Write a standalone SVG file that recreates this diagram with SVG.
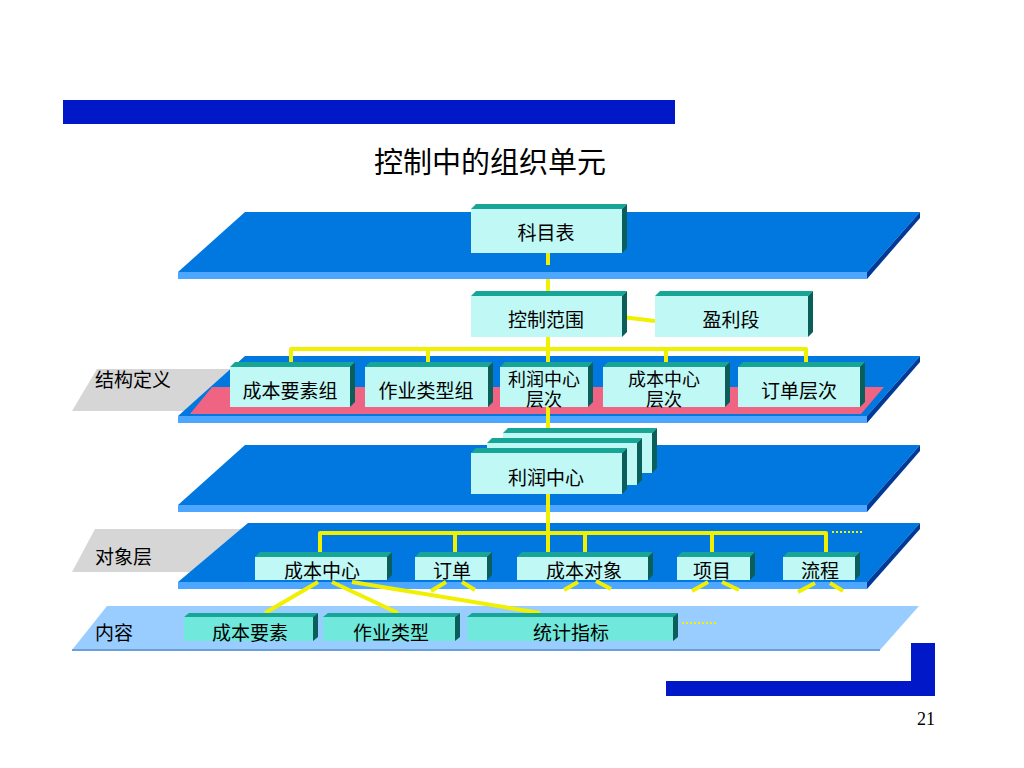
<svg xmlns="http://www.w3.org/2000/svg" width="1024" height="768" viewBox="0 0 1024 768">
<style>
text{font-family:"Liberation Sans","Noto Sans CJK SC",sans-serif;fill:#000}
.t{font-size:19px;text-anchor:middle}
.t2{font-size:18px;text-anchor:middle}
.lbl{font-size:19px}
.pt{fill:#0078e0}
.ps{fill:#4da6ff}
.pd{fill:#003a99}
.bt{fill:#17a596}
.bs{fill:#0b5f5a}
.bf{fill:#c0f8f5}
.bf2{fill:#70e8dc}
.c{stroke:#f0f000;stroke-width:4;fill:none;stroke-linejoin:round}
.d{stroke:#f0f000;stroke-width:2;fill:none;stroke-dasharray:2 2}
</style>
<rect width="1024" height="768" fill="#fff"/>
<rect x="63" y="100" width="612" height="24" fill="#0018c8"/>
<text x="490" y="173" style="font-size:29px;text-anchor:middle">控制中的组织单元</text>

<!-- label bands -->
<polygon points="97,369 260,369 230,411 72,411" fill="#d6d6d6"/>
<polygon points="95,529 260,529 230,572 72,572" fill="#d6d6d6"/>
<text class="lbl" x="95" y="387">结构定义</text>
<text class="lbl" x="95" y="564">对象层</text>

<!-- planes -->
<g id="plane1">
<polygon class="pt" points="245,212 920,212 867,272 178,272"/>
<polygon class="ps" points="178,272 867,272 867,279 178,279"/>
<polygon class="pd" points="920,212 920,218 867,279 867,272"/>
</g>
<g id="plane2">
<polygon class="pt" points="245,356 920,356 867,416 178,416"/>
<polygon points="212,387 884,387 861,414 190,414" fill="#ef6482"/>
<polygon class="ps" points="178,416 867,416 867,423 178,423"/>
<polygon class="pd" points="920,356 920,362 867,423 867,416"/>
</g>
<g id="plane3">
<polygon class="pt" points="245,445 920,445 867,505 178,505"/>
<polygon class="ps" points="178,505 867,505 867,512 178,512"/>
<polygon class="pd" points="920,445 920,451 867,512 867,505"/>
</g>
<g id="plane4">
<polygon class="pt" points="248,523 920,523 867,582 178,582"/>
<polygon class="ps" points="178,582 867,582 867,589 178,589"/>
<polygon class="pd" points="920,523 920,529 867,589 867,582"/>
</g>
<g id="plane5">
<polygon points="107,606 919,606 880,650 72,650" fill="#99ccff"/>
<line x1="72" y1="650" x2="880" y2="650" stroke="#6b9fd6" stroke-width="2"/>
</g>
<text class="lbl" x="95" y="640">内容</text>

<!-- connectors -->
<g id="connectors">
<path class="c" d="M548 253V265M548 279V291"/>
<path class="c" d="M622 317L655 321"/>
<path class="c" d="M548 337V362M291 362V349H806V362M428 349V362M666 349V362"/>
<path class="c" d="M548 407V428"/>
<path class="c" d="M548 494V552M320 552V533H826V552M455 533V552M585 533V552M712 533V552"/>
<path class="d" d="M832 532H863"/>
<path class="c" d="M446 582L431 591M462 582L475 590M578 582L564 590M596 581L611 589M708 582L692 591M722 582L739 590M815 583L798 592M830 583L843 591"/>
<path class="c" d="M318 582L265 613M332 582L398 613M352 582L540 613"/>
<path class="d" d="M682 623H718"/>
</g>

<!-- nodes -->
<g id="n-kemubiao">
<polygon class="bt" points="471,209 476,204 627,204 622,209"/><polygon class="bs" points="622,209 627,204 627,248 622,253"/><rect class="bf" x="471" y="209" width="151" height="44"/>
<text class="t" x="546" y="240">科目表</text></g>
<g id="n-kongzhifanwei">
<polygon class="bt" points="471,296 476,291 627,291 622,296"/><polygon class="bs" points="622,296 627,291 627,332 622,337"/><rect class="bf" x="471" y="296" width="151" height="41"/>
<text class="t" x="546" y="327">控制范围</text></g>
<g id="n-yinliduan">
<polygon class="bt" points="655,296 660,291 813,291 808,296"/><polygon class="bs" points="808,296 813,291 813,332 808,337"/><rect class="bf" x="655" y="296" width="153" height="41"/>
<text class="t" x="731" y="327">盈利段</text></g>

<g id="n-chengbenyaosuzu">
<polygon class="bt" points="230,367 235,362 355,362 350,367"/><polygon class="bs" points="350,367 355,362 355,402 350,407"/><rect class="bf" x="230" y="367" width="120" height="40"/>
<text class="t" x="290" y="398">成本要素组</text></g>
<g id="n-zuoyeleixingzu">
<polygon class="bt" points="365,367 370,362 493,362 488,367"/><polygon class="bs" points="488,367 493,362 493,402 488,407"/><rect class="bf" x="365" y="367" width="123" height="40"/>
<text class="t" x="426" y="398">作业类型组</text></g>
<g id="n-lirunzhongxincengci">
<polygon class="bt" points="500,367 505,362 593,362 588,367"/><polygon class="bs" points="588,367 593,362 593,402 588,407"/><rect class="bf" x="500" y="367" width="88" height="40"/>
<text class="t2" x="544" y="386">利润中心</text><text class="t2" x="544" y="406">层次</text></g>
<g id="n-chengbenzhongxincengci">
<polygon class="bt" points="603,367 608,362 730,362 725,367"/><polygon class="bs" points="725,367 730,362 730,402 725,407"/><rect class="bf" x="603" y="367" width="122" height="40"/>
<text class="t2" x="664" y="386">成本中心</text><text class="t2" x="664" y="406">层次</text></g>
<g id="n-dingdancengci">
<polygon class="bt" points="738,367 743,362 865,362 860,367"/><polygon class="bs" points="860,367 865,362 865,402 860,407"/><rect class="bf" x="738" y="367" width="122" height="40"/>
<text class="t" x="799" y="398">订单层次</text></g>

<g id="n-lirunzhongxin">
<polygon class="bt" points="503,433 508,428 657,428 652,433"/><polygon class="bs" points="652,433 657,428 657,468 652,473"/><rect class="bf" x="503" y="433" width="149" height="40"/>
<polygon class="bt" points="487,443 492,438 642,438 637,443"/><polygon class="bs" points="637,443 642,438 642,480 637,485"/><rect class="bf" x="487" y="443" width="150" height="42"/>
<polygon class="bt" points="471,453 476,448 627,448 622,453"/><polygon class="bs" points="622,453 627,448 627,489 622,494"/><rect class="bf" x="471" y="453" width="151" height="41"/>
<text class="t" x="546" y="485">利润中心</text></g>

<g id="n-chengbenzhongxin">
<polygon class="bt" points="255,557 260,552 392,552 387,557"/><polygon class="bs" points="387,557 392,552 392,575 387,580"/><rect class="bf" x="255" y="557" width="132" height="23"/>
<text class="t" x="322" y="578">成本中心</text></g>
<g id="n-dingdan">
<polygon class="bt" points="415,557 420,552 492,552 487,557"/><polygon class="bs" points="487,557 492,552 492,575 487,580"/><rect class="bf" x="415" y="557" width="72" height="23"/>
<text class="t" x="452" y="578">订单</text></g>
<g id="n-chengbenduixiang">
<polygon class="bt" points="517,557 522,552 653,552 648,557"/><polygon class="bs" points="648,557 653,552 653,575 648,580"/><rect class="bf" x="517" y="557" width="131" height="23"/>
<text class="t" x="584" y="578">成本对象</text></g>
<g id="n-xiangmu">
<polygon class="bt" points="677,557 682,552 755,552 750,557"/><polygon class="bs" points="750,557 755,552 755,575 750,580"/><rect class="bf" x="677" y="557" width="73" height="23"/>
<text class="t" x="712" y="578">项目</text></g>
<g id="n-liucheng">
<polygon class="bt" points="783,557 788,552 860,552 855,557"/><polygon class="bs" points="855,557 860,552 860,575 855,580"/><rect class="bf" x="783" y="557" width="72" height="23"/>
<text class="t" x="820" y="578">流程</text></g>

<g id="n-chengbenyaosu">
<polygon class="bt" points="184,617 189,613 318,613 313,617"/><polygon class="bs" points="313,617 318,613 318,637 313,641"/><rect class="bf2" x="184" y="617" width="129" height="24"/>
<text class="t" x="250" y="640">成本要素</text></g>
<g id="n-zuoyeleixing">
<polygon class="bt" points="323,617 328,613 460,613 455,617"/><polygon class="bs" points="455,617 460,613 460,637 455,641"/><rect class="bf2" x="323" y="617" width="132" height="24"/>
<text class="t" x="391" y="640">作业类型</text></g>
<g id="n-tongjizhibiao">
<polygon class="bt" points="467,617 472,613 678,613 673,617"/><polygon class="bs" points="673,617 678,613 678,637 673,641"/><rect class="bf2" x="467" y="617" width="206" height="24"/>
<text class="t" x="571" y="640">统计指标</text></g>

<rect x="911" y="643" width="24" height="53" fill="#0018c8"/>
<rect x="666" y="681" width="269" height="15" fill="#0018c8"/>
<text x="935" y="725" style="font-family:'Liberation Serif',serif;font-size:18px;text-anchor:end">21</text>
</svg>
